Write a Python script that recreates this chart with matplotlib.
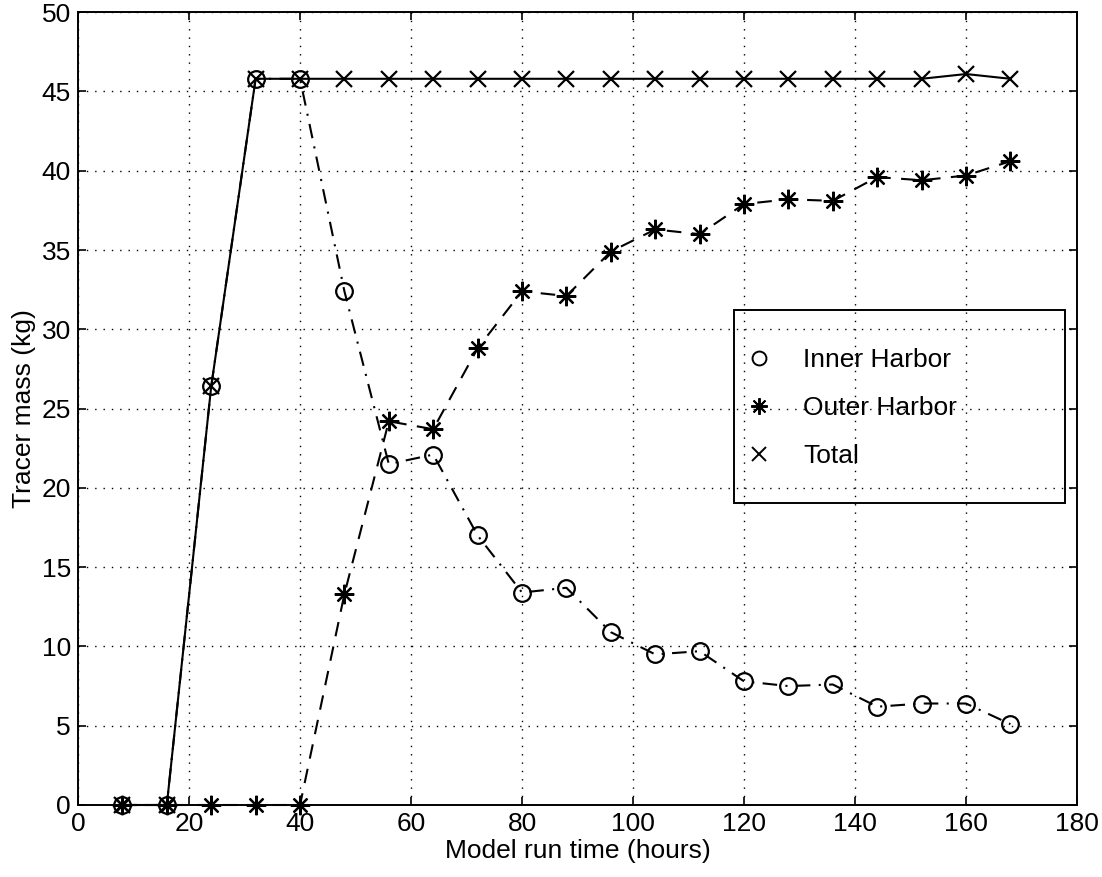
import matplotlib
matplotlib.use("Agg")
import matplotlib.pyplot as plt
from matplotlib.lines import Line2D
from matplotlib.patches import Rectangle

plt.rcParams['font.family'] = ['Liberation Sans', 'DejaVu Sans']

hours = [8, 16, 24, 32, 40, 48, 56, 64, 72, 80, 88, 96, 104, 112, 120, 128, 136, 144, 152, 160, 168]
inner_harbor = [0, 0, 26.4, 45.8, 45.8, 32.4, 21.5, 22.1, 17.0, 13.4, 13.7, 10.9, 9.5, 9.7, 7.8, 7.5, 7.6, 6.2, 6.4, 6.4, 5.1]
outer_harbor = [0, 0, 0, 0, 0, 13.3, 24.2, 23.7, 28.8, 32.4, 32.1, 34.9, 36.3, 36.0, 37.9, 38.2, 38.1, 39.6, 39.4, 39.7, 40.6]
total = [0, 0, 26.4, 45.8, 45.8, 45.8, 45.8, 45.8, 45.8, 45.8, 45.8, 45.8, 45.8, 45.8, 45.8, 45.8, 45.8, 45.8, 45.8, 46.1, 45.8]
labels = ['Inner Harbor', 'Outer Harbor', 'Total']
xticks = [0, 20, 40, 60, 80, 100, 120, 140, 160, 180]
yticks = [0, 5, 10, 15, 20, 25, 30, 35, 40, 45, 50]

FS = 19
fig = plt.figure(figsize=(11.02, 8.77), dpi=100)
ax = fig.add_axes([0.0708, 0.0821, 0.9065, 0.904])

star = (8, 2, 0)
lw = 1.5
ax.plot(hours, inner_harbor, color='black', linestyle=(0, (7, 4, 1, 4)), linewidth=lw,
        marker='o', markersize=12, markerfacecolor='none', markeredgewidth=1.6, clip_on=False)
ax.plot(hours, outer_harbor, color='black', linestyle=(0, (7, 5)), linewidth=lw,
        marker=star, markersize=14, markeredgewidth=1.6, clip_on=False)
ax.plot(hours, total, color='black', linestyle='-', linewidth=lw,
        marker='x', markersize=12, markeredgewidth=1.6, clip_on=False)

ax.set_xlim(0, 180)
ax.set_ylim(0, 50)
ax.set_xticks(xticks)
ax.set_yticks(yticks)
ax.grid(True, color='black', linestyle=(0, (1, 5)), linewidth=1.0)
ax.tick_params(direction='in', top=True, right=True, length=6, width=1.2, labelsize=FS, pad=5)
for s in ax.spines.values():
    s.set_linewidth(1.4)

ax.set_xlabel('Model run time (hours)', fontsize=FS, labelpad=2)
ax.set_ylabel('Tracer mass (kg)', fontsize=FS, labelpad=4)

# legend frame (transparent, gridlines visible through it)
ax.add_patch(Rectangle((0.657, 0.381), 0.331, 0.243, transform=ax.transAxes,
                       facecolor='none', edgecolor='black', linewidth=1.4, zorder=5))

handles = [
    Line2D([], [], color='black', linestyle='none', marker='o', markersize=10, markerfacecolor='none', markeredgewidth=1.4),
    Line2D([], [], color='black', linestyle='none', marker=star, markersize=12, markeredgewidth=1.4),
    Line2D([], [], color='black', linestyle='none', marker='x', markersize=10, markeredgewidth=1.4),
]
leg = ax.legend(handles, labels, loc='upper left', bbox_to_anchor=(0.668, 0.576),
                fontsize=FS, frameon=False, borderpad=0, labelspacing=0.9,
                handletextpad=1.2, handlelength=1.0, borderaxespad=0)

fig.savefig('out.png', dpi=100)
